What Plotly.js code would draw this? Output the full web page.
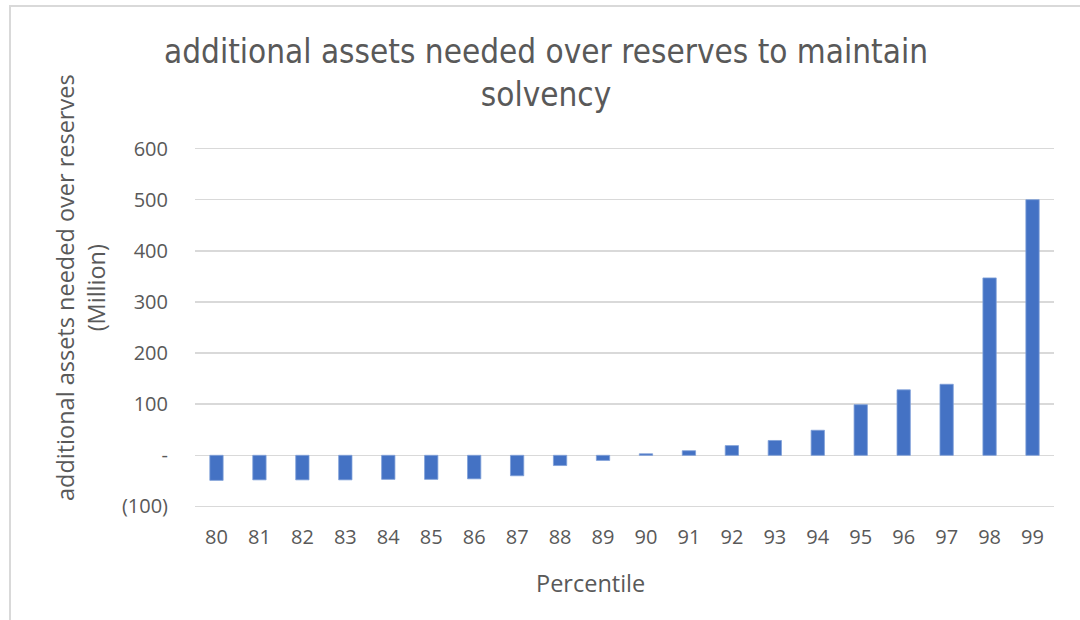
<!DOCTYPE html>
<html>
<head>
<meta charset="utf-8">
<script src="https://cdn.plot.ly/plotly-3.0.1.min.js"></script>
<style>
  html, body { margin: 0; padding: 0; background: #ffffff; }
  #wrap { position: relative; width: 1080px; height: 620px; overflow: hidden; }
  #chart { width: 1080px; height: 620px; }
  #frame { position: absolute; left: 9px; top: 5px; width: 1100px; height: 700px;
           border-left: 2px solid #d9d9d9; border-top: 2px solid #d9d9d9; pointer-events: none; }
</style>
</head>
<body>
<div id="wrap">
  <div id="chart"></div>
  <div id="frame"></div>
</div>
<script>
const percentiles = ["80","81","82","83","84","85","86","87","88","89","90","91","92","93","94","95","96","97","98","99"];
const additionalAssets = [-49,-48,-48,-48,-47,-47,-46,-40,-20,-10,3,9,19,29,49,99,128,139,347,500];
const yTickValues = [-100,0,100,200,300,400,500,600];
const yTickLabels = ["(100)","-","100","200","300","400","500","600"];
const chartTitle = "additional assets needed over reserves to maintain<br>solvency";
const yTitle = "additional assets needed over reserves<br>(Million)";
const xTitle = "Percentile";

const grey = "#595959";
const tickFont = { family: "'Open Sans', 'Noto Sans', sans-serif", size: 20, color: grey };
const axisTitleFont = { family: "'Open Sans', 'Noto Sans', sans-serif", size: 23.5, color: grey };

const trace = {
  type: "bar",
  x: percentiles,
  y: additionalAssets,
  marker: { color: "#4472C4", line: { color: "#7f9fd8", width: 0.8 } },
  hoverinfo: "x+y"
};

const L = 195, R = 1054, T = 146, B = 509;
const pw = R - L, ph = B - T;

const layout = {
  width: 1080, height: 620,
  margin: { l: L, r: 1080 - R, t: T, b: 620 - B, pad: 0 },
  paper_bgcolor: "#ffffff", plot_bgcolor: "#ffffff",
  showlegend: false,
  bargap: 0.69,
  title: {
    text: chartTitle,
    font: { family: "'Liberation Sans Narrow', 'DejaVu Sans Condensed', 'Open Sans', sans-serif", size: 33, color: grey },
    xref: "container", x: 546 / 1080, xanchor: "center",
    yref: "container", y: 1 - 63 / 620, yanchor: "middle"
  },
  xaxis: {
    type: "category",
    tickfont: tickFont,
    showgrid: false, zeroline: false, showline: false,
    ticks: "", ticklabelstandoff: 14,
    fixedrange: true
  },
  yaxis: {
    range: [-105, 605],
    tickvals: yTickValues, ticktext: yTickLabels,
    tickfont: tickFont,
    showgrid: true, gridcolor: "#d9d9d9", gridwidth: 1.5,
    zeroline: true, zerolinecolor: "#d9d9d9", zerolinewidth: 1.5,
    showline: false, ticks: "", ticklabelstandoff: 26,
    fixedrange: true
  },
  annotations: [
    {
      text: yTitle, textangle: -90, showarrow: false,
      xref: "paper", yref: "paper",
      x: (80 - L) / pw, y: (B - 288) / ph,
      xanchor: "center", yanchor: "middle",
      font: axisTitleFont
    },
    {
      text: xTitle, showarrow: false,
      xref: "paper", yref: "paper",
      x: (590 - L) / pw, y: (B - 583) / ph,
      xanchor: "center", yanchor: "middle",
      font: axisTitleFont
    }
  ]
};

Plotly.newPlot("chart", [trace], layout, { displayModeBar: false, staticPlot: true });
</script>
</body>
</html>
